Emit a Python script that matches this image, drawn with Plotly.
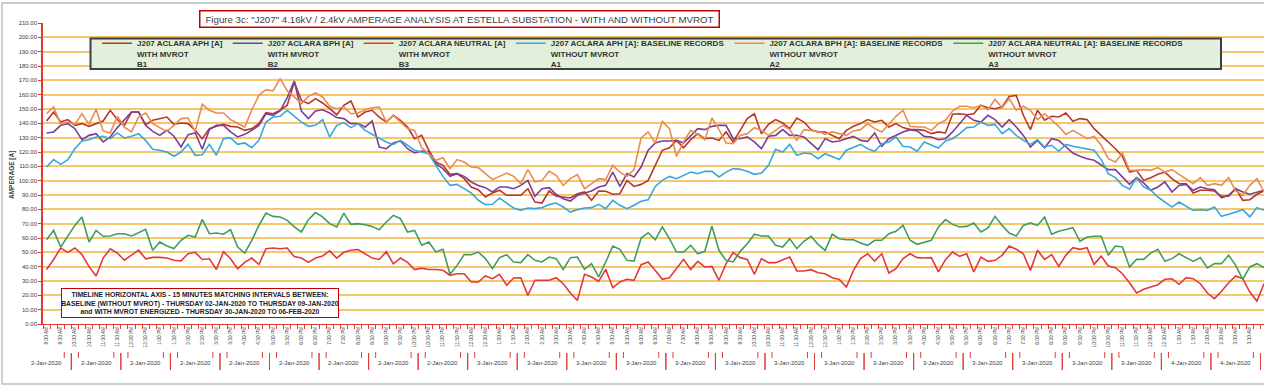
import pandas as pd
import plotly.graph_objects as go

# ---------------- data ----------------
START = "2020-01-02 09:00"
N_POINTS = 173
STEP = "15min"

B1_APH_WITH = [
    141.6, 147.9, 140.9, 142.6, 138.6, 139.8, 137.9, 139.8, 141.6, 149.1,
    142.6, 138.6, 147.9, 147.9, 139.1, 142.1, 143.3, 144.4, 139.3, 140.2,
    139.8, 135.1, 129.3, 136.3, 137.9, 139.3, 137.9, 137.4, 135.1, 136.3,
    139.8, 147.4, 146.7, 149.1, 152.6, 168.8, 156.0, 153.7, 157.2, 154.2,
    150.2, 146.0, 152.6, 155.6, 144.4, 147.9, 149.1, 144.4, 140.9, 145.6,
    142.1, 137.4, 129.3, 131.6, 121.2, 113.0, 110.7, 104.4,
    104.9, 101.4, 95.6, 93.7, 88.6, 91.4, 93.3, 89.8, 89.8, 89.8,
    94.4, 85.1, 84.4, 92.8, 89.1, 88.6, 87.9, 90.9, 92.1, 86.3,
    92.8, 92.6, 90.5, 90.9, 100.2, 96.0, 97.4, 100.2, 110.7, 121.2,
    123.0, 128.1, 123.0, 128.6, 132.8, 129.3, 129.8, 128.1, 134.0, 127.0,
    135.1, 143.3, 146.7, 132.8, 139.3, 142.6, 140.2, 136.3, 143.7, 140.9,
    135.6, 134.0, 134.0, 131.6, 129.3, 135.1,
    137.9, 139.8, 142.6, 140.9, 142.1, 137.4, 139.8, 137.0, 135.6, 135.6,
    135.1, 132.8, 134.0, 133.3, 146.3, 146.7, 146.0, 146.7, 152.6, 150.9,
    150.2, 151.4, 158.8, 159.5, 145.6, 135.6, 149.1, 142.1, 144.9, 144.4,
    147.2, 141.4, 143.3, 142.6, 136.3, 131.6, 127.0, 122.3, 117.0, 106.0,
    107.2, 100.2, 102.1, 104.4, 106.0, 101.4, 97.9, 97.9, 91.4, 93.3,
    93.3, 92.8, 89.1, 89.1, 94.4, 86.3, 86.7, 90.5, 92.8,
]

B2_BPH_WITH = [
    133.3, 134.0, 138.6, 139.8, 136.3, 128.6, 131.6, 132.8, 127.0, 130.5,
    137.0, 142.6, 147.9, 147.9, 138.6, 134.4, 131.6, 135.1, 131.0, 123.5,
    132.1, 133.3, 121.9, 135.6, 138.6, 138.6, 134.0, 130.5, 132.3, 135.1,
    138.6, 146.7, 145.6, 148.6, 157.9, 169.5, 148.6, 143.3, 148.6, 149.5,
    147.2, 144.0, 143.3, 139.8, 139.8, 137.4, 141.6, 123.5, 122.3, 126.3,
    127.7, 122.3, 119.3, 120.7, 120.0, 111.9, 108.4, 103.0,
    104.9, 103.0, 99.1, 96.7, 95.1, 92.1, 95.6, 95.6, 94.4, 96.7,
    100.2, 89.1, 94.4, 95.1, 90.5, 87.4, 85.8, 89.8, 91.4, 92.8,
    95.6, 96.7, 106.0, 96.0, 104.9, 102.6, 109.5, 121.2, 126.3, 127.7,
    127.7, 128.1, 126.3, 131.0, 136.3, 135.6, 137.9, 138.6, 138.6, 129.3,
    129.3, 130.5, 127.0, 122.3, 131.0, 131.6, 135.6, 131.6, 131.6, 130.5,
    126.3, 121.6, 129.3, 127.0, 127.7, 129.3,
    130.9, 128.1, 127.4, 133.3, 124.0, 129.3, 131.6, 134.0, 135.6, 134.7,
    130.9, 130.5, 128.6, 129.3, 134.0, 139.8, 145.6, 142.1, 140.9, 145.6,
    142.6, 137.4, 142.6, 137.4, 131.6, 123.5, 128.1, 123.0, 129.3, 128.1,
    123.5, 119.3, 117.0, 115.3, 114.2, 110.7, 107.7, 107.7, 102.6, 97.4,
    102.1, 98.4, 93.3, 95.6, 99.1, 92.1, 96.7, 97.4, 93.3, 95.6,
    94.4, 93.7, 88.1, 89.8, 94.4, 92.1, 90.5, 92.1, 93.3,
]

B3_NEUTRAL_WITH = [
    38.0, 45.0, 53.0, 50.0, 53.0, 48.5, 40.0, 33.5, 46.0, 52.5,
    49.5, 44.5, 48.0, 51.5, 45.5, 46.5, 46.5, 46.0, 44.5, 44.0,
    49.0, 50.0, 45.0, 45.5, 38.0, 50.5, 45.5, 38.5, 43.0, 46.0,
    41.5, 52.5, 53.0, 52.5, 53.0, 47.0, 46.0, 43.0, 46.0, 47.5,
    51.0, 46.0, 50.0, 51.5, 52.0, 49.0, 46.0, 45.0, 50.5, 42.0,
    46.0, 43.0, 38.0, 39.0, 38.0, 38.0, 37.5, 34.0,
    35.1, 35.1, 29.3, 29.3, 33.5, 31.6, 34.7, 27.0, 32.1, 32.3,
    20.0, 30.5, 30.5, 30.5, 32.3, 28.1, 21.6, 16.5, 34.7, 32.8,
    29.8, 38.1, 25.3, 29.3, 31.2, 30.5, 41.4, 43.3, 37.4, 31.2,
    32.3, 38.6, 45.1, 38.1, 43.7, 39.8, 40.2, 30.5, 42.1, 49.8,
    46.3, 45.1, 34.7, 45.6, 42.8, 42.8, 44.9, 46.7, 37.0, 37.0,
    37.9, 35.8, 35.1, 32.3, 31.0, 25.8,
    37.4, 45.6, 49.0, 43.9, 49.0, 35.6, 38.6, 45.6, 49.0, 46.3,
    46.0, 46.3, 36.3, 44.9, 50.2, 47.2, 49.0, 36.3, 46.7, 43.7,
    44.4, 47.9, 54.4, 52.1, 49.0, 37.4, 51.4, 45.1, 48.4, 40.2,
    47.9, 53.3, 52.1, 53.3, 41.6, 47.4, 40.5, 39.3, 35.1, 28.8,
    21.6, 24.2, 25.8, 27.4, 31.2, 31.6, 27.7, 32.3, 31.6, 28.1,
    21.6, 17.7, 22.8, 28.8, 33.5, 31.6, 22.3, 16.0, 28.1,
]

A1_APH_BASE = [
    109.5, 114.7, 111.4, 114.7, 122.3, 127.7, 128.6, 130.5, 131.0, 129.3,
    133.3, 129.8, 131.0, 132.8, 128.1, 121.9, 121.2, 120.0, 117.0, 120.0,
    125.3, 117.7, 118.1, 125.3, 117.7, 129.3, 129.8, 125.3, 126.3, 123.0,
    128.1, 140.9, 144.4, 144.9, 149.1, 144.9, 140.9, 137.9, 138.6, 142.6,
    130.5, 138.6, 140.5, 137.0, 139.8, 135.1, 132.3, 129.3, 127.0, 125.3,
    128.1, 124.7, 121.2, 120.0, 118.8, 110.7, 103.0, 96.7,
    97.4, 94.4, 91.4, 86.3, 83.3, 83.5, 87.9, 84.4, 80.9, 79.3,
    80.9, 80.5, 81.2, 83.3, 84.4, 81.6, 78.1, 79.8, 80.9, 81.2,
    83.5, 80.5, 86.3, 82.8, 80.5, 82.8, 85.6, 86.7, 96.0, 100.2,
    103.0, 101.4, 103.7, 106.0, 104.9, 106.5, 106.5, 102.6, 106.0, 108.4,
    107.9, 106.5, 104.4, 105.3, 110.7, 121.9, 120.0, 125.3, 117.7, 119.3,
    118.8, 115.3, 118.8, 116.5, 114.7, 121.2,
    123.0, 125.3, 122.3, 120.5, 125.8, 127.0, 130.5, 124.0, 123.5, 120.5,
    127.0, 124.7, 122.8, 127.7, 129.3, 132.8, 137.0, 137.4, 140.9, 138.6,
    139.3, 132.8, 136.3, 131.6, 128.1, 125.3, 128.6, 123.5, 124.7, 120.5,
    125.3, 124.0, 123.0, 121.9, 121.2, 114.7, 104.9, 102.1, 96.7, 94.0,
    101.9, 95.6, 93.3, 88.6, 85.1, 81.6, 85.1, 82.1, 79.3, 79.8,
    79.3, 81.6, 75.1, 76.5, 78.1, 79.8, 74.7, 81.2, 79.3,
]

A2_BPH_BASE = [
    146.7, 151.4, 139.3, 140.9, 139.3, 146.7, 139.3, 149.8, 134.7, 133.3,
    144.9, 137.4, 134.0, 144.4, 147.2, 139.8, 137.0, 134.4, 138.6, 143.3,
    143.7, 134.4, 153.3, 149.1, 147.2, 147.2, 142.6, 139.8, 137.4, 149.5,
    159.5, 163.5, 162.6, 171.2, 162.6, 158.4, 153.7, 158.8, 161.2, 158.4,
    151.9, 150.2, 151.4, 146.7, 147.2, 149.5, 150.9, 151.4, 140.9, 145.6,
    140.9, 136.3, 135.1, 123.0, 118.8, 114.2, 116.0, 108.4,
    114.7, 113.0, 109.5, 109.1, 104.9, 100.7, 103.0, 105.3, 103.0, 97.9,
    107.7, 99.1, 100.2, 106.5, 103.7, 96.7, 101.4, 104.2, 94.4, 97.9,
    101.4, 100.7, 110.7, 106.0, 103.0, 107.7, 129.8, 134.0, 126.3, 141.4,
    136.3, 117.0, 127.0, 135.1, 132.3, 128.6, 143.7, 135.6, 126.3, 125.8,
    131.6, 132.8, 137.0, 135.1, 131.6, 135.1, 138.6, 135.6, 128.1, 135.6,
    135.1, 134.4, 132.3, 134.0, 132.8, 131.6,
    134.7, 135.6, 139.8, 136.3, 134.0, 139.8, 144.9, 149.1, 137.9, 137.4,
    137.4, 135.1, 139.8, 142.1, 148.6, 151.9, 151.9, 150.9, 152.6, 149.5,
    156.7, 150.9, 157.2, 149.1, 151.9, 149.1, 142.6, 146.7, 142.1, 137.9,
    132.3, 135.1, 132.3, 129.3, 130.9, 124.7, 115.3, 113.0, 119.3, 107.2,
    107.2, 107.7, 107.2, 109.1, 106.0, 107.7, 104.4, 101.4, 97.9, 102.1,
    96.7, 97.9, 96.7, 102.1, 92.8, 89.8, 96.7, 101.4, 92.1,
]

A3_NEUTRAL_BASE = [
    58.8, 65.3, 53.7, 61.2, 68.8, 74.7, 57.2, 65.3, 61.2, 61.4,
    63.0, 63.0, 61.4, 63.7, 66.0, 51.4, 57.2, 54.4, 52.6, 58.4,
    61.9, 60.7, 73.0, 63.0, 63.5, 62.6, 65.8, 53.7, 49.5, 58.4,
    68.8, 77.4, 75.1, 74.7, 72.3, 67.7, 64.2, 72.8, 77.7, 74.7,
    70.0, 67.7, 77.4, 69.5, 70.0, 69.3, 68.1, 65.8, 71.2, 75.8,
    73.5, 64.2, 65.3, 54.9, 57.2, 50.2, 52.1, 34.7,
    40.9, 48.4, 48.4, 50.2, 45.6, 38.6, 46.3, 48.4, 43.3, 42.8,
    48.4, 44.4, 43.3, 46.7, 45.6, 38.1, 46.3, 46.7, 38.1, 42.1,
    32.8, 43.3, 54.4, 52.1, 44.4, 43.9, 60.0, 63.7, 58.8, 67.7,
    59.5, 50.2, 50.2, 54.9, 49.0, 50.7, 68.4, 51.4, 44.4, 43.3,
    50.7, 56.0, 62.6, 61.4, 61.4, 54.9, 53.7, 59.5, 52.6, 57.7,
    61.2, 55.6, 51.4, 62.6, 59.5, 58.8,
    58.8, 56.5, 54.9, 58.4, 58.4, 63.0, 64.7, 68.8, 58.4, 55.6,
    57.2, 58.4, 67.7, 72.8, 69.5, 67.7, 68.1, 70.5, 64.2, 67.0,
    75.1, 68.8, 63.5, 61.4, 68.8, 70.5, 68.8, 74.7, 62.6, 64.7,
    66.0, 67.2, 57.7, 60.7, 61.2, 61.2, 47.9, 54.4, 53.7, 39.8,
    45.1, 45.1, 49.5, 52.1, 43.7, 45.6, 49.0, 46.3, 43.7, 46.3,
    39.1, 42.1, 42.1, 47.9, 40.9, 31.2, 39.8, 42.1, 39.3,
]

SERIES_NAMES = [
    ["J207 ACLARA APH [A]", "WITH MVROT", "B1"],
    ["J207 ACLARA BPH [A]", "WITH MVROT", "B2"],
    ["J207 ACLARA NEUTRAL [A]", "WITH MVROT", "B3"],
    ["J207 ACLARA APH [A]: BASELINE RECORDS", "WITHOUT MVROT", "A1"],
    ["J207 ACLARA BPH [A]: BASELINE RECORDS", "WITHOUT MVROT", "A2"],
    ["J207 ACLARA NEUTRAL [A]: BASELINE RECORDS", "WITHOUT MVROT", "A3"],
]
SERIES_COLORS = ["#B8372B", "#7B3E99", "#E3393A", "#3AA7DB", "#E98D4E", "#3E9F5C"]

TITLE = ('Figure 3c: "J207" 4.16kV / 2.4kV AMPERAGE ANALYSIS AT ESTELLA '
         'SUBSTATION - WITH AND WITHOUT MVROT')
NOTE_LINES = [
    "TIMELINE HORIZONTAL AXIS - 15 MINUTES MATCHING INTERVALS BETWEEN:",
    "BASELINE (WITHOUT MVROT) - THURSDAY 02-JAN-2020 TO THURSDAY 09-JAN-2020",
    "and WITH MVROT ENERGIZED - THURSDAY 30-JAN-2020 TO 06-FEB-2020",
]
Y_TITLE = "AMPERAGE [A]"

# ---------------- layout geometry ----------------
W, H = 1264, 387
ML, MR, MT, MB = 43, 0, 23, 63
PW, PH = W - ML - MR, H - MT - MB


def px(x):
    return (x - ML) / PW


def py(y):
    return (H - MB - y) / PH


def bold_lines(lines):
    return "<br>".join("<b>" + s + "</b>" for s in lines)


times = pd.date_range(START, periods=N_POINTS, freq=STEP)
idx = list(range(N_POINTS))
time_labels = [t.strftime("%-I:%M %p") for t in times]
date_labels = [f"{t.day}-{t.strftime('%b-%Y')}" for t in times]

AXIS_RED = "#E03A33"
GRID = "#F6C66A"
TXT = "#404040"
FONT = "Liberation Sans"

fig = go.Figure()
all_series = [B1_APH_WITH, B2_BPH_WITH, B3_NEUTRAL_WITH,
              A1_APH_BASE, A2_BPH_BASE, A3_NEUTRAL_BASE]
for name, vals, col in zip(SERIES_NAMES, all_series, SERIES_COLORS):
    fig.add_trace(go.Scatter(x=idx[:len(vals)], y=vals, mode="lines",
                             name=bold_lines(name),
                             line=dict(color=col, width=1.6)))

shapes = []
# outer chart frame
shapes.append(dict(type="rect", xref="paper", yref="paper",
                   x0=px(2), x1=px(1280), y0=py(384), y1=py(3),
                   line=dict(color="#BFBFBF", width=1.5), layer="below"))
# legend background box
shapes.append(dict(type="rect", xref="paper", yref="paper",
                   x0=px(90.5), x1=px(1221), y0=py(69), y1=py(38.5),
                   fillcolor="#E2EFDA", line=dict(color="#3F3F3F", width=2),
                   layer="above"))

annotations = []
# second-level date row under the time labels
for i in range(0, N_POINTS, 7):
    annotations.append(dict(x=i, xref="x", y=py(363), yref="paper",
                            text=date_labels[i], showarrow=False,
                            font=dict(size=6, color=TXT, family=FONT),
                            xanchor="center", yanchor="middle"))
    for off in (-3.5, 3.5):
        shapes.append(dict(type="line", xref="x", yref="paper",
                           x0=i + off, x1=i + off, y0=py(370), y1=py(353),
                           line=dict(color=AXIS_RED, width=1)))
    for off in (-2.5, 2.5):
        shapes.append(dict(type="line", xref="x", yref="paper",
                           x0=i + off, x1=i + off, y0=py(358), y1=py(352),
                           line=dict(color=AXIS_RED, width=1)))

annotations.append(dict(x=px(459.5), y=py(18.5), xref="paper", yref="paper",
                        text=TITLE, showarrow=False, xanchor="center", yanchor="middle",
                        font=dict(size=9.7, color=TXT, family=FONT),
                        bgcolor="white", bordercolor="#C00000", borderwidth=1.5,
                        width=518, height=15, borderpad=0))
annotations.append(dict(x=px(199.5), y=py(303), xref="paper", yref="paper",
                        text=bold_lines(NOTE_LINES),
                        showarrow=False, xanchor="center", yanchor="middle",
                        font=dict(size=6.8, color="#222222", family=FONT),
                        bgcolor="white", bordercolor="#C00000", borderwidth=1,
                        width=276, height=28, borderpad=0, align="center"))
annotations.append(dict(x=px(12), y=py(175), xref="paper", yref="paper",
                        text="<b>" + Y_TITLE + "</b>", textangle=-90, showarrow=False,
                        font=dict(size=6.5, color=TXT, family=FONT),
                        xanchor="center", yanchor="middle"))

fig.update_layout(
    width=W, height=H,
    margin=dict(l=ML, r=MR, t=MT, b=MB, autoexpand=False),
    paper_bgcolor="white", plot_bgcolor="white",
    font=dict(family=FONT, color=TXT),
    showlegend=True,
    legend=dict(orientation="h", x=px(97), y=py(31.5), xanchor="left", yanchor="top",
                bgcolor="rgba(0,0,0,0)", borderwidth=0, valign="top",
                font=dict(size=8, color="#333333", family=FONT),
                itemwidth=30, traceorder="normal"),
    shapes=shapes,
    annotations=annotations,
)

fig.update_xaxes(
    range=[-0.5, 172.0],
    tickmode="array",
    tickvals=idx[::2],
    ticktext=time_labels[::2],
    tickangle=-90,
    tickfont=dict(size=4.8, color=TXT, family=FONT),
    ticks="", showgrid=False, zeroline=False,
    showline=True, linecolor=AXIS_RED, linewidth=1,
    minor=dict(tickmode="linear", tick0=-0.5, dtick=1, ticks="outside",
               ticklen=4, tickcolor=AXIS_RED, tickwidth=1, showgrid=False),
)
fig.update_yaxes(
    range=[0, 210], dtick=10, tickformat=".2f",
    tickfont=dict(size=6, color=TXT, family=FONT),
    showgrid=True, gridcolor=GRID, gridwidth=1.5, zeroline=False,
    showline=True, linecolor=AXIS_RED, linewidth=1.5,
    ticks="outside", ticklen=3, tickcolor=AXIS_RED,
)

fig.write_html("out.html", config={"displayModeBar": False},
               post_script="document.body.style.margin='0px';")
